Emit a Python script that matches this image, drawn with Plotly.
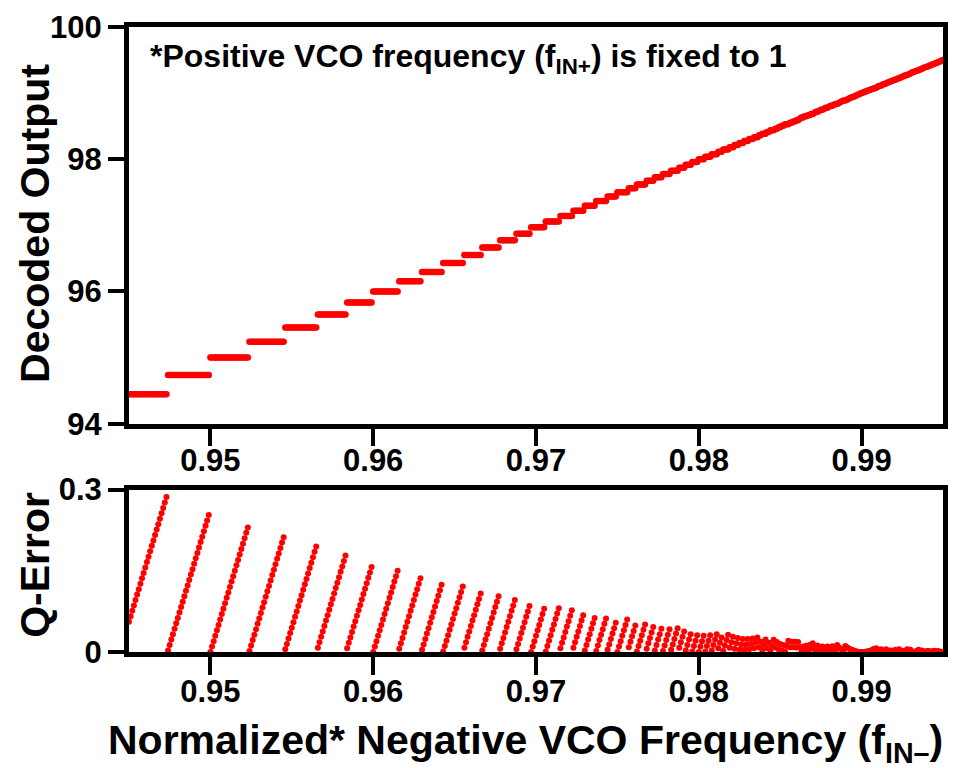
import numpy as np
import plotly.graph_objects as go

# ---- data ----
# sweep of the negative VCO frequency (dot spacing read from the Q-error ramps)
sweep_start = 0.945
sweep_stop = 0.995
sweep_step = 0.0001

# decoded output levels (the output steps to level L once f_IN- reaches L/100)
decoded_levels = [
    94.444, 94.737, 95.000, 95.238, 95.455, 95.652, 95.833, 96.000, 96.154, 96.296,
    96.429, 96.552, 96.667, 96.774, 96.875, 96.970, 97.059, 97.143, 97.222, 97.297,
    97.368, 97.436, 97.500, 97.561, 97.619, 97.674, 97.727, 97.778, 97.826, 97.872,
    97.917, 97.959, 98.000, 98.039, 98.077, 98.113, 98.148, 98.182, 98.214, 98.246,
    98.276, 98.305, 98.333, 98.361, 98.387, 98.413, 98.4375, 98.4615, 98.485, 98.507,
    98.529, 98.551, 98.571, 98.5915, 98.611, 98.630, 98.6486, 98.667, 98.684, 98.701,
    98.7179, 98.734, 98.750, 98.765, 98.780, 98.795, 98.8095, 98.8235, 98.837, 98.851,
    98.864, 98.876, 98.889, 98.901, 98.913, 98.925, 98.936, 98.947, 98.958, 98.969,
    98.980, 98.990, 99.000, 99.010, 99.020, 99.029, 99.0385, 99.048, 99.057, 99.065,
    99.074, 99.083, 99.091, 99.099, 99.107, 99.115, 99.123, 99.130, 99.138, 99.145,
    99.1525, 99.160, 99.167, 99.174, 99.180, 99.187, 99.1935, 99.200, 99.206, 99.213,
    99.21875, 99.225, 99.231, 99.237, 99.242, 99.248, 99.254, 99.259, 99.265, 99.270,
    99.275, 99.281, 99.286, 99.291, 99.296, 99.301, 99.306, 99.310, 99.315, 99.320,
    99.324, 99.329, 99.333, 99.338, 99.342, 99.346, 99.351, 99.355, 99.359, 99.363,
    99.367, 99.371, 99.375, 99.379, 99.383, 99.3865, 99.390, 99.394, 99.398, 99.401,
    99.405, 99.408, 99.412, 99.415, 99.419, 99.422, 99.425, 99.429, 99.432, 99.435,
    99.438, 99.441, 99.444, 99.4475, 99.4505, 99.4536, 99.4565, 99.459, 99.462, 99.465,
    99.468, 99.471, 99.474, 99.476, 99.479, 99.482, 99.4845, 99.487, 99.490, 99.492,
    99.495, 99.497, 99.500,
]

x_ticks = [0.95, 0.96, 0.97, 0.98, 0.99]
x_tick_text = ["0.95", "0.96", "0.97", "0.98", "0.99"]
top_y_ticks = [94, 96, 98, 100]
bottom_y_ticks = [0, 0.3]
bottom_y_tick_text = ["0", "0.3"]

# ---- series built from the data ----
n_pts = int(round((sweep_stop - sweep_start) / sweep_step)) + 1
f_in = np.round(sweep_start + sweep_step * np.arange(n_pts), 6)
levels = np.array(decoded_levels)
edges = levels / 100.0
idx = np.searchsorted(edges, f_in + 1e-9, side="right") - 1
idx = np.clip(idx, 0, len(levels) - 1)
decoded = levels[idx]
q_error = 100.0 * f_in - decoded

RED = "#ff0000"
FONT = "Liberation Sans, Arial, sans-serif"

fig = go.Figure()
fig.add_trace(go.Scatter(
    x=f_in, y=decoded, mode="markers", xaxis="x", yaxis="y",
    marker=dict(color=RED, size=6.5, line=dict(width=0)), showlegend=False,
))
fig.add_trace(go.Scatter(
    x=f_in, y=q_error, mode="markers", xaxis="x2", yaxis="y2",
    marker=dict(color=RED, size=6, line=dict(width=0)), showlegend=False,
))

tick_font = dict(family=FONT, size=31, color="black", weight="bold")
axis_common = dict(
    showline=True, linecolor="black", linewidth=5, mirror=True,
    ticks="outside", tickwidth=4, tickcolor="black",
    showgrid=False, zeroline=False, tickfont=tick_font,
)

top_dom = [(652 - 423) / 627, 1.0]
bot_dom = [0.0, (652 - 489) / 627]

fig.update_layout(
    width=958, height=768,
    margin=dict(l=129, r=10, t=25, b=116),
    paper_bgcolor="white", plot_bgcolor="white",
    xaxis=dict(domain=[0, 1], range=[0.945, 0.995], anchor="y",
               tickvals=x_ticks, ticktext=x_tick_text, ticklen=17,
               ticklabelstandoff=-12, **axis_common),
    yaxis=dict(domain=top_dom, range=[94, 100], anchor="x",
               tickvals=top_y_ticks, ticklen=16, **axis_common),
    xaxis2=dict(domain=[0, 1], range=[0.945, 0.995], anchor="y2",
                tickvals=x_ticks, ticktext=x_tick_text, ticklen=18,
                ticklabelstandoff=-10, **axis_common),
    yaxis2=dict(domain=bot_dom, range=[0, 0.3], anchor="x2",
                tickvals=bottom_y_ticks, ticktext=bottom_y_tick_text,
                ticklen=16, **axis_common),
)

lbl_font = dict(family=FONT, size=41, color="black", weight="bold")
fig.add_annotation(
    text="Decoded Output", xref="paper", yref="paper",
    x=(35 - 129) / 819, y=(652 - 222) / 627, textangle=-90,
    showarrow=False, xanchor="center", yanchor="middle", font=lbl_font,
)
fig.add_annotation(
    text="Q-Error", xref="paper", yref="paper",
    x=(35 - 129) / 819, y=(652 - 565) / 627, textangle=-90,
    showarrow=False, xanchor="center", yanchor="middle", font=lbl_font,
)
fig.add_annotation(
    text="Normalized* Negative VCO Frequency (f<sub>IN\u2013</sub>)",
    xref="paper", yref="paper",
    x=(528 - 129) / 819, y=(652 - 743) / 627,
    showarrow=False, xanchor="center", yanchor="middle", font=lbl_font,
)
fig.add_annotation(
    text="*Positive VCO frequency (f<sub>IN+</sub>) is fixed to 1",
    xref="paper", yref="paper",
    x=(148 - 129) / 819, y=(652 - 57) / 627,
    showarrow=False, xanchor="left", yanchor="middle",
    font=dict(family=FONT, size=32, color="black", weight="bold"),
)

fig.write_html("out.html")
